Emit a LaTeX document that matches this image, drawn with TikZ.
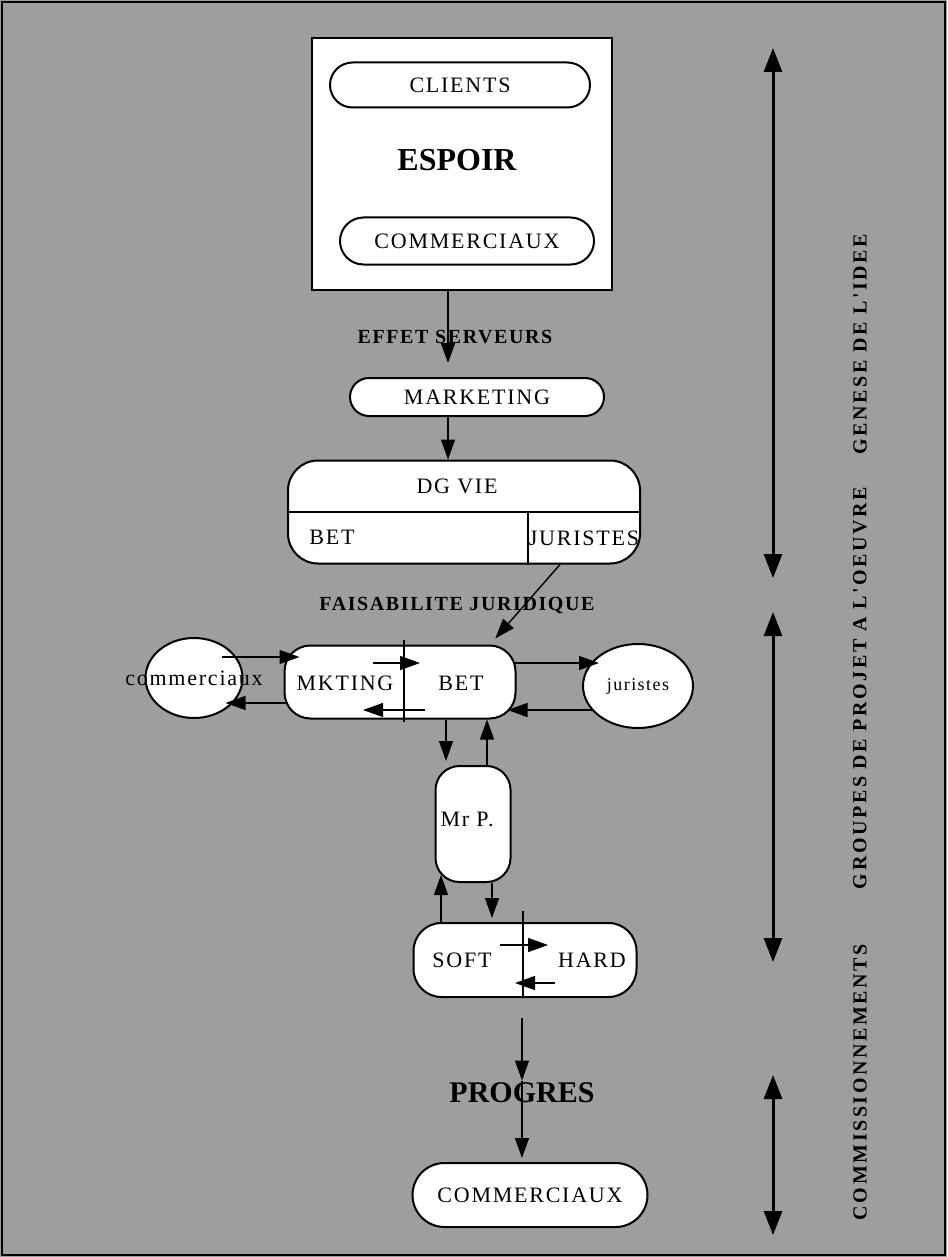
\documentclass[tikz,border=0pt]{standalone}
\usepackage{fontspec}
\setmainfont{Liberation Serif}
\newfontfamily\serifsp{Liberation Serif}[LetterSpace=8]
\newfontfamily\serifvert{Liberation Serif}[LetterSpace=13]
\usetikzlibrary{positioning,shapes.misc,shapes.geometric,arrows.meta}
\definecolor{trame}{gray}{0.62}
\tikzset{
    pill/.style={rounded rectangle, draw, fill=white, line width=1pt, inner sep=0pt, font=\serifsp\fontsize{11}{13}\selectfont},
    cadre/.style={rectangle, rounded corners=#1, draw, fill=white, line width=1pt, inner sep=0pt, font=\serifsp\fontsize{11}{13}\selectfont},
    cadre/.default=0pt,
    blob/.style={ellipse, draw, fill=white, line width=1pt, inner sep=0pt},
    lbl/.style={font=\serifsp\fontsize{11}{13}\selectfont, inner sep=1pt},
    titre/.style={font=\serifsp\bfseries\fontsize{10}{12}\selectfont, inner sep=1pt},
    vlbl/.style={font=\serifvert\bfseries\fontsize{10}{12}\selectfont, rotate=90, inner sep=1pt},
    fleche/.style={-{Triangle[length=10pt,width=7pt]}, line width=0.7pt},
    borne/.style={{Triangle[length=12pt,width=9pt]}-{Triangle[length=12pt,width=9pt]}, line width=1.5pt}
}

\begin{document}
\begin{tikzpicture}[x=0.5pt, y=-0.5pt]
    % fond tramé et cadre
    \fill[trame] (0,0) rectangle (947,1257);
    \draw[line width=1pt] (2,2) rectangle (945,1255);

    % bloc ESPOIR
    \node[cadre, minimum width=150pt, minimum height=126pt] (espoir) at (462,164) {};
    \node[font=\bfseries\fontsize{16}{18}\selectfont] (espoirtxt) at (457,160) {ESPOIR};
    \node[pill, minimum width=130pt, minimum height=22.5pt] (clients) at (460,85) {CLIENTS};
    \node[pill, minimum width=127pt, minimum height=23.5pt] (commA) at (467,241) {COMMERCIAUX};

    % MARKETING
    \node[pill, minimum width=127pt, minimum height=19pt] (marketing) at (477,397) {MARKETING};
    \node[titre] (effet) at (455,337) {EFFET SERVEURS};
    \draw[fleche, shorten >=7pt] ([xshift=-7pt]espoir.south) -- ([xshift=-14.5pt]marketing.north);

    % DG VIE
    \node[cadre=15pt, minimum width=176pt, minimum height=51.5pt] (dgvie) at (464,512) {};
    \draw[line width=1pt] (dgvie.west) -- (dgvie.east);
    \draw[line width=1pt] ([xshift=32pt]dgvie.center) -- ([xshift=32pt]dgvie.south);
    \node[lbl] (dg) at (457,486) {DG VIE};
    \node[lbl] (betA) at (332,537) {BET};
    \node[lbl] (jur) at (584,538) {JURISTES};
    \draw[fleche] ([xshift=-14.5pt]marketing.south) -- ([xshift=-8pt]dgvie.north);

    % FAISABILITE JURIDIQUE
    \node[titre] (faisab) at (457,605) {FAISABILITE JURIDIQUE};

    % MKTING / BET
    \node[cadre=13pt, minimum width=115.5pt, minimum height=36.5pt] (mkbet) at (400,682) {};
    \draw[line width=1pt] ([xshift=2pt,yshift=2.5pt]mkbet.north) -- ([xshift=2pt,yshift=-1pt]mkbet.south);
    \node[lbl] (mkting) at (345,683) {MKTING};
    \node[lbl] (betB) at (461,683) {BET};
    \draw[fleche] ([xshift=-13.5pt,yshift=9.5pt]mkbet.center) -- ([xshift=10pt,yshift=9.5pt]mkbet.center);
    \draw[fleche] ([xshift=12.5pt,yshift=-14pt]mkbet.center) -- ([xshift=-18.5pt,yshift=-14pt]mkbet.center);
    \draw[fleche, shorten >=4pt] ([xshift=48pt]dgvie.south) -- ([xshift=45pt]mkbet.north);

    % commerciaux / juristes
    \node[blob, minimum width=48.5pt, minimum height=40pt, label={[lbl]center:commerciaux}] (commB) at (194,678) {};
    \node[blob, minimum width=55pt, minimum height=42pt, label={[lbl, font=\serifsp\fontsize{9}{11}\selectfont]center:juristes}] (jurB) at (638,686) {};
    \draw[fleche] ([xshift=-11pt,yshift=10.5pt]commB.east) -- ([xshift=8pt,yshift=12.5pt]mkbet.west);
    \draw[fleche] ([xshift=2pt,yshift=-10.5pt]mkbet.west) -- ([xshift=-9pt,yshift=-12.5pt]commB.east);
    \draw[fleche] ([xshift=-1.5pt,yshift=9.5pt]mkbet.east) -- ([xshift=8.5pt,yshift=11.5pt]jurB.west);
    \draw[fleche] ([xshift=5pt,yshift=-12pt]jurB.west) -- ([xshift=-4.5pt,yshift=-14pt]mkbet.east);

    % Mr P.
    \node[cadre=12pt, minimum width=37.5pt, minimum height=58pt] (mrp) at (473,824) {};
    \node[lbl] (mrptxt) at (467,819) {Mr P.};
    \draw[fleche, shorten >=2pt] ([xshift=23pt]mkbet.south) -- ([xshift=-13.5pt]mrp.north);
    \draw[fleche] ([xshift=7pt]mrp.north) -- ([xshift=43.5pt]mkbet.south);

    % SOFT / HARD
    \node[cadre=14pt, minimum width=111.5pt, minimum height=37pt] (softhard) at (525,960) {};
    \draw[line width=1pt] ([xshift=-1pt,yshift=5.5pt]softhard.north) -- ([xshift=-1pt]softhard.south);
    \node[lbl] (soft) at (462,960) {SOFT};
    \node[lbl] (hard) at (592,960) {HARD};
    \draw[fleche] ([xshift=-12.5pt,yshift=7.5pt]softhard.center) -- ([xshift=11.5pt,yshift=7.5pt]softhard.center);
    \draw[fleche] ([xshift=15pt,yshift=-11.5pt]softhard.center) -- ([xshift=-5pt,yshift=-11.5pt]softhard.center);
    \draw[fleche, shorten >=-4pt] ([xshift=-42pt]softhard.north) -- ([xshift=-16pt]mrp.south);
    \draw[fleche, shorten >=2pt] ([xshift=9.5pt]mrp.south) -- ([xshift=-16.5pt]softhard.north);

    % PROGRES
    \node[pill, minimum width=117.5pt, minimum height=32pt] (commC) at (530,1195) {COMMERCIAUX};
    \node[font=\bfseries\fontsize{15}{17}\selectfont, inner sep=1pt] (progres) at (522,1093) {PROGRES};
    \draw[fleche] ([xshift=-1.5pt,yshift=-10pt]softhard.south) -- (progres.north);
    \draw[fleche, shorten >=2pt] (progres.north) -- ([xshift=-4pt]commC.north);

    % phases à droite
    \coordinate (p1a) at (773,48);   \coordinate (p1b) at (773,578);
    \coordinate (p2a) at (773,612);  \coordinate (p2b) at (773,962);
    \coordinate (p3a) at (773,1075); \coordinate (p3b) at (773,1235);
    \foreach \i in {1,2,3}
        \draw[borne] (p\i a) -- (p\i b);
    \node[vlbl] (genese) at (860,344) {GENESE DE L'IDEE};
    \node[vlbl] (groupes) at (860,688) {GROUPES DE PROJET A L'OEUVRE};
    \node[vlbl] (commiss) at (860,1082) {COMMISSIONNEMENTS};
\end{tikzpicture}
\end{document}
